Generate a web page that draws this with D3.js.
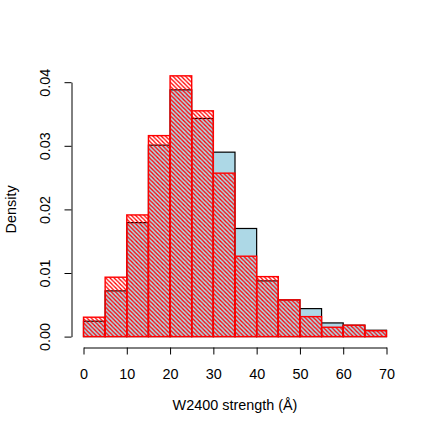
<!DOCTYPE html>
<html>
<head>
<meta charset="utf-8">
<script src="https://cdn.jsdelivr.net/npm/d3@7"></script>
<style>
html,body{margin:0;padding:0;background:#fff;}
svg{display:block;}
text{font-family:"Liberation Sans",Arial,Helvetica,sans-serif;font-size:14.4px;fill:#000;}
</style>
</head>
<body>
<svg id="chart" width="436" height="436"></svg>
<script>
// Bin edges (Å)
const breaks = [0,5,10,15,20,25,30,35,40,45,50,55,60,65,70];
// Density of the first sample (light blue, black borders)
const blueDensity = [0.00242,0.00719,0.01792,0.0301,0.0388,0.0343,0.0290,0.0170,0.00876,0.00577,0.0044,0.00215,0.00179,0.00100];
// Density of the second sample (red hatched)
const redDensity  = [0.00305,0.00934,0.01913,0.0316,0.0410,0.0355,0.0257,0.01264,0.00943,0.00577,0.00314,0.00147,0.00179,0.00092];
// Tick labels
const xTicks = [0,10,20,30,40,50,60,70];
const yTicks = [0,0.01,0.02,0.03,0.04];
const xTitle = "W2400 strength (Å)";
const yTitle = "Density";

const FONT = "Liberation Sans, Arial, sans-serif";
const FS = "14.4px";

const svg = d3.select("#chart");
const x = d3.scaleLinear().domain([0,70]).range([83.5,386.5]);
const y = d3.scaleLinear().domain([0,0.04]).range([336.6,82.2]);

const defs = svg.append("defs");
const s = 4.2;
const pat = defs.append("pattern").attr("id","hatch")
  .attr("patternUnits","userSpaceOnUse").attr("width",s).attr("height",s);
pat.append("path")
  .attr("d",`M0,0L${s},${s}M${-s},0L${s},${2*s}M0,${-s}L${2*s},${s}`)
  .attr("stroke","#ff0000").attr("stroke-width",1.3).attr("fill","none");

const bins1 = blueDensity.map((d,i)=>({x0:breaks[i],x1:breaks[i+1],d}));
const bins2 = redDensity.map((d,i)=>({x0:breaks[i],x1:breaks[i+1],d}));

svg.append("g").selectAll("rect").data(bins1).join("rect")
  .attr("x",d=>x(d.x0)).attr("width",d=>x(d.x1)-x(d.x0))
  .attr("y",d=>y(d.d)).attr("height",d=>y(0)-y(d.d))
  .attr("fill","#add8e6").attr("stroke","#000").attr("stroke-width",1.2);

svg.append("g").selectAll("rect").data(bins2).join("rect")
  .attr("x",d=>x(d.x0)).attr("width",d=>x(d.x1)-x(d.x0))
  .attr("y",d=>y(d.d)).attr("height",d=>y(0)-y(d.d))
  .attr("fill","url(#hatch)").attr("stroke","#ff0000").attr("stroke-width",1.4);

// X axis
const xa = svg.append("g").attr("transform","translate(0,347.5)")
  .call(d3.axisBottom(x).tickValues(xTicks).tickSize(7).tickSizeOuter(0).tickFormat(d3.format("d")));
xa.select(".domain").attr("stroke","#000");
xa.selectAll(".tick text").remove();
xa.selectAll(".tick").append("text")
  .attr("y",31.5).attr("text-anchor","middle")
  .style("font-size",FS).style("font-family",FONT).attr("fill","#000")
  .text(d=>d3.format("d")(d));

// Y axis
const ya = svg.append("g").attr("transform","translate(71.5,0)")
  .call(d3.axisLeft(y).tickValues(yTicks).tickSize(7).tickSizeOuter(0).tickFormat(d3.format(".2f")));
ya.selectAll(".tick text").remove();
ya.selectAll(".tick").append("text")
  .attr("transform","translate(-21.5,0) rotate(-90)")
  .attr("text-anchor","middle")
  .style("font-size",FS).style("font-family",FONT)
  .attr("fill","#000")
  .text(d=>d3.format(".2f")(d));

svg.append("text").attr("x",x(35)).attr("y",410).attr("text-anchor","middle")
  .style("font-size",FS).text(xTitle);
svg.append("text").attr("transform",`translate(16,${(y(0)+y(0.04))/2}) rotate(-90)`)
  .attr("text-anchor","middle").style("font-size",FS).text(yTitle);
</script>
</body>
</html>
